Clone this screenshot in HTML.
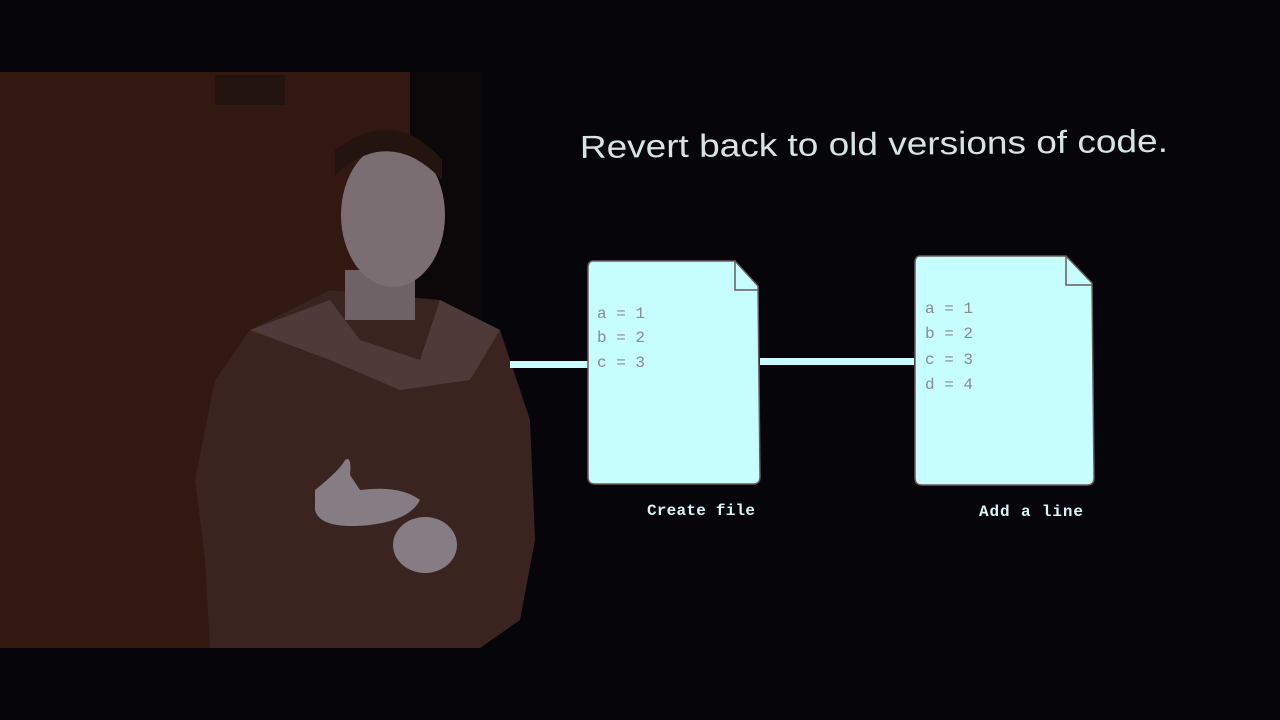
<!DOCTYPE html>
<html><head><style>
html,body{margin:0;padding:0;background:#05050a;width:1280px;height:720px;overflow:hidden}
</style></head><body>
<svg width="1280" height="720" viewBox="0 0 1280 720" xmlns="http://www.w3.org/2000/svg">
<rect width="1280" height="720" fill="#05050a"/>
<!-- left video area -->
<rect x="0" y="72" width="410" height="576" fill="#311912"/>
<rect x="410" y="72" width="72" height="576" fill="#0c0708"/>
<rect x="215" y="75" width="70" height="30" fill="#241410"/>
<!-- body -->
<path d="M330 290 L440 300 L500 330 L530 420 L535 540 L520 620 L480 648 L210 648 L205 560 L195 480 L215 380 L250 330 Z" fill="#3a2420"/>
<path d="M250 330 L330 300 L360 340 L420 360 L440 300 L500 330 L470 380 L400 390 L330 360 Z" fill="#4e3a38"/>
<!-- neck & face -->
<rect x="345" y="270" width="70" height="50" fill="#6e6266"/>
<ellipse cx="393" cy="215" rx="52" ry="72" fill="#7a6e72"/>
<path d="M335 175 Q390 125 442 180 L442 160 Q395 105 335 150 Z" fill="#241410"/>
<!-- hands -->
<path d="M315 490 Q340 470 345 460 Q352 455 350 475 L360 490 Q400 485 420 500 Q410 520 370 525 Q320 530 315 510 Z" fill="#857c84"/>
<ellipse cx="425" cy="545" rx="32" ry="28" fill="#857c84"/>
<!-- connectors -->
<rect x="510" y="361" width="78" height="7" fill="#c8fcfc"/>
<rect x="760" y="358" width="154" height="7" fill="#c8fcfc"/>
<!-- doc 1 -->
<path d="M593 261 L735 261 L758 286 L760 477 Q760 484 753 484 L595 484 Q588 484 588 477 L588 268 Q588 261 593 261 Z" fill="#c6fefe" stroke="#6e5a5a" stroke-width="1.5"/>
<path d="M735 261 L735 290 L758 290" fill="none" stroke="#6e5a5a" stroke-width="1.5"/>
<!-- doc 2 -->
<path d="M920 256 L1066 256 L1092 283 L1094 478 Q1094 485 1087 485 L922 485 Q915 485 915 478 L915 263 Q915 256 920 256 Z" fill="#c6fefe" stroke="#6e5a5a" stroke-width="1.5"/>
<path d="M1066 256 L1066 285 L1092 285" fill="none" stroke="#6e5a5a" stroke-width="1.5"/>
<g font-family="Liberation Mono, monospace" font-size="16" fill="#8a8a90">
<text x="597" y="318" xml:space="preserve">a = 1</text>
<text x="597" y="342" xml:space="preserve">b = 2</text>
<text x="597" y="367" xml:space="preserve">c = 3</text>
<text x="925" y="313" xml:space="preserve">a = 1</text>
<text x="925" y="338" xml:space="preserve">b = 2</text>
<text x="925" y="364" xml:space="preserve">c = 3</text>
<text x="925" y="389" xml:space="preserve">d = 4</text>
</g>
<g font-family="Liberation Mono, monospace" font-size="16" font-weight="bold" fill="#d8f4f4">
<text x="647" y="515" textLength="108">Create file</text>
<text x="979" y="516" textLength="104">Add a line</text>
</g>
<text x="580" y="158" font-family="Liberation Sans, sans-serif" font-size="32" fill="#d8e4e4" textLength="588" lengthAdjust="spacingAndGlyphs" transform="rotate(-0.6 580 158)">Revert back to old versions of code.</text>
</svg>
</body></html>
